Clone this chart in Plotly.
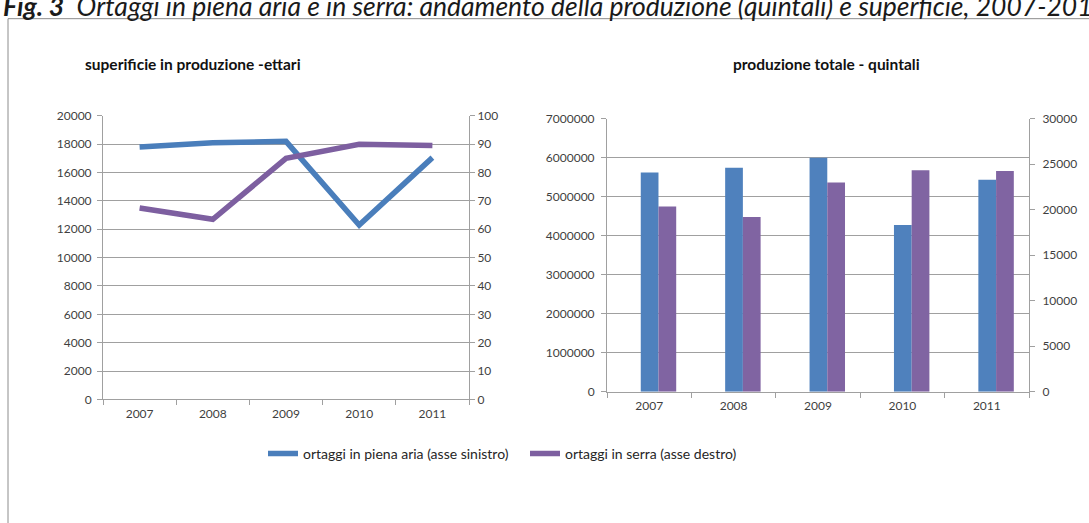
import plotly.graph_objects as go

# --- data -------------------------------------------------------------
years = ["2007", "2008", "2009", "2010", "2011"]

# superficie in produzione (ettari)
sup_piena_aria = [17800, 18100, 18200, 12300, 17050]   # asse sinistro
sup_serra = [67.5, 63.5, 85, 90, 89.5]                  # asse destro

# produzione totale (quintali)
prod_piena_aria = [5620000, 5745000, 6000000, 4275000, 5435000]  # asse sinistro
prod_serra = [20350, 19200, 23000, 24350, 24250]                  # asse destro

name_aria = "ortaggi in piena aria (asse sinistro)"
name_serra = "ortaggi in serra (asse destro)"

# --- styling ----------------------------------------------------------
W, H = 1089, 523
BLUE_LINE = "#4A7EBB"
PURPLE_LINE = "#7D5FA0"
BLUE_BAR = "#4F81BD"
PURPLE_BAR = "#8064A2"
GRID = "#A0A0A0"
TXT = "#3F3F3F"
FONT = "Lato"


def px(x):
    return x / W


def py(y):
    return 1 - y / H


fig = go.Figure()

# left chart: lines (each series gets its own legend box)
fig.add_trace(go.Scatter(x=years, y=sup_piena_aria, mode="lines", name=name_aria,
                         line=dict(color=BLUE_LINE, width=5.5), xaxis="x", yaxis="y",
                         legend="legend"))
fig.add_trace(go.Scatter(x=years, y=sup_serra, mode="lines", name=name_serra,
                         line=dict(color=PURPLE_LINE, width=5.5), xaxis="x", yaxis="y2",
                         legend="legend2"))

# right chart: bars
fig.add_trace(go.Bar(x=years, y=prod_piena_aria, width=0.21, offset=-0.1,
                     marker=dict(color=BLUE_BAR, line=dict(width=0)),
                     showlegend=False, xaxis="x2", yaxis="y3"))
fig.add_trace(go.Bar(x=years, y=prod_serra, width=0.21, offset=0.11,
                     marker=dict(color=PURPLE_BAR, line=dict(width=0)),
                     showlegend=False, xaxis="x2", yaxis="y4"))

axis_common = dict(showline=True, linecolor=GRID, linewidth=1, ticks="outside",
                   ticklen=5, tickcolor=GRID, zeroline=False,
                   tickfont=dict(family=FONT, size=12, color=TXT))

x_common = dict(axis_common, type="category", tickson="boundaries",
                showgrid=False, range=[-0.5, 4.5], fixedrange=True,
                ticklabelstandoff=3)

legend_common = dict(orientation="h", yanchor="middle", y=py(459), xanchor="left",
                     font=dict(family=FONT, size=14, color="#262626"),
                     bgcolor="rgba(0,0,0,0)", itemwidth=30)

fig.update_layout(
    width=W, height=H,
    margin=dict(l=0, r=0, t=0, b=0),
    paper_bgcolor="white", plot_bgcolor="white",
    barmode="group",
    font=dict(family=FONT, color=TXT),
    xaxis=dict(x_common, domain=[px(103), px(469)], anchor="y"),
    yaxis=dict(axis_common, domain=[py(403), py(111)], anchor="x",
               range=[0, 20000], dtick=2000, showgrid=True, gridcolor=GRID,
               gridwidth=1, tickformat="d", ticklabelstandoff=3),
    yaxis2=dict(axis_common, overlaying="y", side="right", anchor="x",
                range=[0, 100], dtick=10, showgrid=False),
    xaxis2=dict(x_common, domain=[px(607), px(1029)], anchor="y3"),
    yaxis3=dict(axis_common, domain=[py(395), py(114)], anchor="x2",
                range=[0, 7000000], dtick=1000000, showgrid=True, gridcolor=GRID,
                gridwidth=1, tickformat="d", ticklabelstandoff=4),
    yaxis4=dict(axis_common, overlaying="y3", side="right", anchor="x2",
                range=[0, 30000], dtick=5000, showgrid=False, tickformat="d",
                ticklabelstandoff=5),
    legend=dict(legend_common, x=px(263)),
    legend2=dict(legend_common, x=px(525)),
    showlegend=True,
)

# outer frame
fig.add_shape(type="rect", xref="paper", yref="paper",
              x0=px(8), y0=py(540), x1=px(1100), y1=py(11),
              line=dict(color="#8C8C8C", width=1), fillcolor="rgba(0,0,0,0)",
              layer="below")

# figure heading, running across the top edge of the page
fig.add_annotation(
    text="<b><i>Fig. 3</i></b><i>  Ortaggi in piena aria e in serra: andamento della "
         "produzione (quintali) e superficie, 2007-2011</i>",
    xref="paper", yref="paper", x=px(1), y=py(-2), xanchor="left", yanchor="middle",
    showarrow=False, font=dict(family=FONT, size=26.5, color="#1A1A1A"))

# chart titles
fig.add_annotation(text="<b>superificie in produzione -ettari</b>",
                   xref="paper", yref="paper", x=px(83), y=py(58),
                   xanchor="left", yanchor="middle", showarrow=False,
                   font=dict(family=FONT, size=15.5, color="#111111"))
fig.add_annotation(text="<b>produzione totale - quintali</b>",
                   xref="paper", yref="paper", x=px(826), y=py(58),
                   xanchor="center", yanchor="middle", showarrow=False,
                   font=dict(family=FONT, size=15.5, color="#111111"))

fig.write_html("out.html")
